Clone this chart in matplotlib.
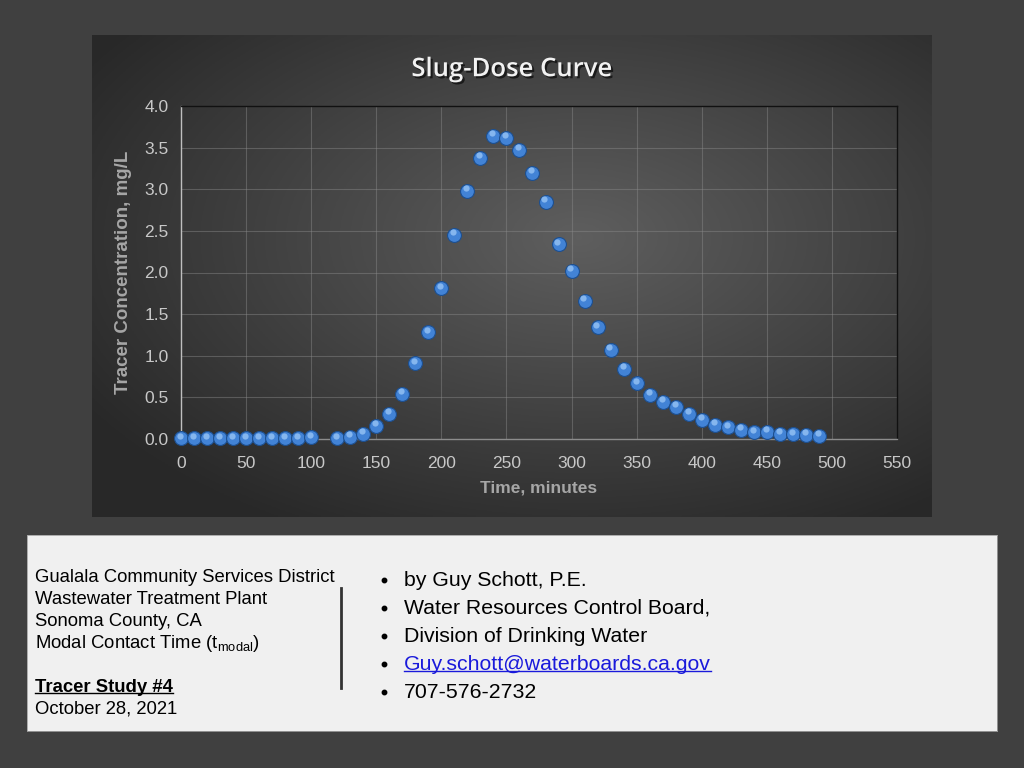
import numpy as np
import matplotlib
matplotlib.use("Agg")
import matplotlib.pyplot as plt
from matplotlib import patheffects
from matplotlib.transforms import offset_copy

# tracer readings
time_min = [0, 10, 20, 30, 40, 50, 60, 70, 80, 90, 100,
            120, 130, 140, 150, 160, 170, 180, 190, 200, 210,
            220, 230, 240, 250, 260, 270, 280, 290, 300, 310,
            320, 330, 340, 350, 360, 370, 380, 390, 400, 410,
            420, 430, 440, 450, 460, 470, 480, 490]
conc_mgL = [0.01, 0.01, 0.01, 0.01, 0.01, 0.01, 0.01, 0.01, 0.01, 0.01, 0.02,
            0.01, 0.03, 0.06, 0.16, 0.30, 0.54, 0.91, 1.28, 1.81, 2.45,
            2.98, 3.38, 3.64, 3.62, 3.47, 3.20, 2.85, 2.34, 2.02, 1.66,
            1.34, 1.07, 0.84, 0.67, 0.53, 0.45, 0.39, 0.30, 0.23, 0.17,
            0.14, 0.11, 0.08, 0.085, 0.06, 0.055, 0.05, 0.04]

x_ticks = list(range(0, 551, 50))
y_ticks = [0.0, 0.5, 1.0, 1.5, 2.0, 2.5, 3.0, 3.5, 4.0]

left_lines = ["Gualala Community Services District",
              "Wastewater Treatment Plant",
              "Sonoma County, CA",
              r"Modal Contact Time (t$_{\mathregular{modal}}$)",
              "",
              "Tracer Study #4",
              "October 28, 2021"]
right_lines = ["by Guy Schott, P.E.",
               "Water Resources Control Board,",
               "Division of Drinking Water",
               "Guy.schott@waterboards.ca.gov",
               "707-576-2732"]

plt.rcParams['font.family'] = ['Liberation Sans', 'DejaVu Sans']
plt.rcParams['mathtext.fontset'] = 'custom'
plt.rcParams['mathtext.rm'] = 'Liberation Sans'

W, H = 1024, 768
fig = plt.figure(figsize=(W / 100, H / 100), dpi=100)
fig.patch.set_facecolor('#404040')

# chart panel with a soft radial gradient
panel = fig.add_axes([92 / W, 1 - 517 / H, 840 / W, 482 / H])
gy, gx = np.mgrid[0:1:200j, 0:1:300j]
r = np.sqrt(((gx - 0.58) / 0.75) ** 2 + ((gy - 0.42) / 0.75) ** 2)
shade = np.clip(0.37 - 0.23 * r, 0.16, 0.37)
panel.imshow(np.dstack([shade] * 3), aspect='auto', extent=[0, 1, 0, 1], origin='upper')
panel.set_axis_off()

panel.text(0.5, 0.928, "Slug-Dose Curve", transform=panel.transAxes,
           ha='center', va='center', fontsize=18.5, fontweight='semibold',
           family=['Open Sans', 'DejaVu Sans'], color='#f2f2f2',
           path_effects=[patheffects.withSimplePatchShadow(offset=(1.5, -1.5),
                                                          shadow_rgbFace='black', alpha=0.6)])

ax = fig.add_axes([181 / W, 1 - 439 / H, 716 / W, 333 / H])
ax.patch.set_alpha(0)
ax.set_xlim(0, 550)
ax.set_ylim(0, 4.0)
ax.set_xticks(x_ticks)
ax.set_yticks(y_ticks)
ax.set_yticklabels([f"{v:.1f}" for v in y_ticks])
ax.grid(True, color='#8a8a8a', linewidth=0.8, alpha=0.45)
ax.set_axisbelow(True)
ax.tick_params(length=0, colors='#c8c8c8', labelsize=12.5)
ax.tick_params(axis='x', pad=12)
ax.tick_params(axis='y', pad=9)
ax.spines['left'].set_color('#bfbfbf')
ax.spines['bottom'].set_color('#8c8c8c')
ax.spines['top'].set_color('#111111')
ax.spines['right'].set_color('#111111')
for s in ax.spines.values():
    s.set_linewidth(1.0)

ax.set_xlabel("Time, minutes", color='#a6a6a6', fontsize=12.5, fontweight='bold', labelpad=7)
ax.set_ylabel("Tracer Concentration, mg/L", color='#a6a6a6', fontsize=13.5,
              fontweight='bold', labelpad=9)

# sphere-like markers: base ball, then a small highlight nudged up-left
ax.plot(time_min, conc_mgL, 'o', ms=10, mfc='#4283d6', mec='#1d4f8f',
        mew=0.8, clip_on=False, zorder=3)
hl = offset_copy(ax.transData, fig=fig, x=-0.8, y=1.9, units='points')
ax.plot(time_min, conc_mgL, 'o', ms=4.5, mfc='#9cc8f7', mec='none',
        alpha=0.75, transform=hl, clip_on=False, zorder=4)

# info box below
box = fig.add_axes([27 / W, 1 - 731 / H, 970 / W, 196 / H])
box.set_xlim(27, 997)
box.set_ylim(731, 535)
box.set_facecolor('#f0f0f0')
box.set_xticks([])
box.set_yticks([])
for s in box.spines.values():
    s.set_color('#a0a0a0')
    s.set_linewidth(0.6)

underline = []
for i, line in enumerate(left_lines):
    if not line:
        continue
    bold = line.startswith("Tracer")
    t = box.text(35, 577 + 22 * i, line, ha='left', va='center', fontsize=13.3,
                 color='black', fontweight='bold' if bold else 'normal')
    if bold:
        underline.append((t, 'black'))

box.plot([341, 341], [588, 688], color='#333333', linewidth=2)

for i, line in enumerate(right_lines):
    y = 580 + 28 * i
    box.plot(384, y, 'o', ms=3.2, color='black')
    link = line.startswith("Guy.")
    col = '#1a1adb' if link else 'black'
    t = box.text(404, y, line, ha='left', va='center', fontsize=15.3, color=col)
    if link:
        underline.append((t, col))

# underline the study title and the mail link
fig.canvas.draw()
renderer = fig.canvas.get_renderer()
inv = box.transData.inverted()
for t, col in underline:
    bb = t.get_window_extent(renderer)
    (x0, y0), (x1, y1) = inv.transform([[bb.x0, bb.y0], [bb.x1, bb.y1]])
    yl = y0 - 0.12 * (y0 - y1)
    box.plot([x0, x1], [yl, yl], color=col, linewidth=1.0)

fig.savefig("out.png", dpi=100, facecolor=fig.get_facecolor())
